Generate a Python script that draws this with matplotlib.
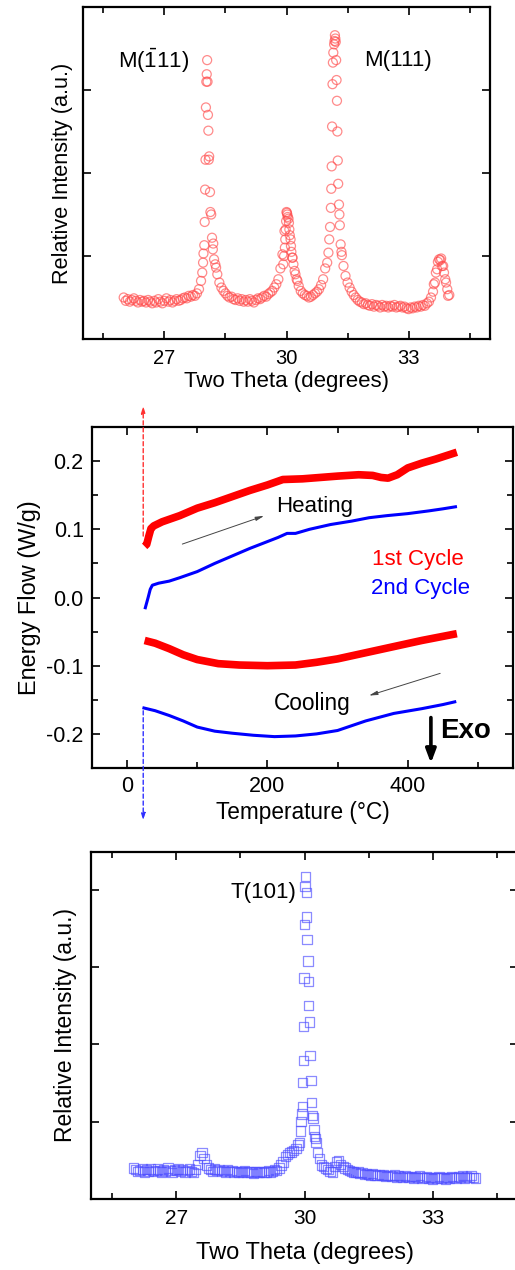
import numpy as np
import matplotlib
matplotlib.use("Agg")
import matplotlib.pyplot as plt
from matplotlib.ticker import MultipleLocator

plt.rcParams['font.family'] = ['Liberation Sans', 'DejaVu Sans']
plt.rcParams['mathtext.fontset'] = 'custom'
plt.rcParams['mathtext.rm'] = 'Liberation Sans'
plt.rcParams['mathtext.it'] = 'Liberation Sans:italic'

# ---- XRD, before DSC (monoclinic) ----
# scan grid, 0.05 deg step from 26 to 34
xrd_top_x = np.round(np.arange(26.0, 34.0001, 0.05), 2)
xrd_top_y = [
    0.50, 0.46, 0.48, 0.45, 0.47, 0.49, 0.46, 0.44, 0.47, 0.45,
    0.46, 0.44, 0.47, 0.45, 0.43, 0.46, 0.44, 0.48, 0.45, 0.43,
    0.46, 0.49, 0.45, 0.47, 0.44, 0.46, 0.48, 0.46, 0.47, 0.49,
    0.50, 0.49, 0.52, 0.51, 0.53, 0.52, 0.55, 0.60, 0.70, 0.92,
    1.80, 3.36, 2.20, 1.50, 1.15, 0.90, 0.78, 0.68, 0.62, 0.58,
    0.55, 0.52, 0.50, 0.51, 0.48, 0.47, 0.49, 0.46, 0.48, 0.45,
    0.47, 0.45, 0.48, 0.46, 0.44, 0.47, 0.49, 0.48, 0.50, 0.52,
    0.51, 0.54, 0.56, 0.58, 0.62, 0.66, 0.72, 0.85, 1.02, 1.30,
    1.53, 1.45, 1.20, 0.98, 0.82, 0.72, 0.64, 0.58, 0.55, 0.53,
    0.52, 0.50, 0.51, 0.53, 0.55, 0.57, 0.60, 0.65, 0.72, 0.85,
    0.92, 1.20, 1.81, 3.45, 3.62, 2.50, 1.50, 1.05, 0.88, 0.76,
    0.68, 0.62, 0.57, 0.53, 0.50, 0.47, 0.45, 0.44, 0.42, 0.43,
    0.41, 0.40, 0.42, 0.39, 0.41, 0.40, 0.38, 0.41, 0.39, 0.40,
    0.38, 0.40, 0.39, 0.41, 0.38, 0.39, 0.40, 0.38, 0.39, 0.37,
    0.36, 0.38, 0.37, 0.39, 0.38, 0.40, 0.39, 0.41, 0.40, 0.43,
    0.45, 0.50, 0.57, 0.68, 0.84, 0.96, 0.97, 0.88, 0.72, 0.60,
    0.53]
# extra points on the peaks (finer sampling)
pk1_x = [27.93, 27.96, 27.98, 27.99, 28.01, 28.02, 28.03, 28.04, 28.06,
         28.07, 28.08, 28.09, 28.12, 28.13, 28.17, 28.19, 28.22, 28.27]
pk1_y = [0.80, 1.03, 1.13, 1.41, 2.16, 2.79, 3.10, 3.19, 3.10,
         2.70, 2.51, 2.16, 1.77, 1.53, 1.22, 1.08, 0.96, 0.86]
pk2_x = [29.92, 29.94, 29.96, 29.97, 29.98, 29.99, 30.01, 30.02, 30.03,
         30.06, 30.07, 30.08, 30.11, 30.12, 30.14, 30.17, 30.22, 30.27]
pk2_y = [0.90, 1.00, 1.10, 1.20, 1.32, 1.42, 1.52, 1.50, 1.47,
         1.40, 1.32, 1.25, 1.12, 1.05, 0.98, 0.90, 0.78, 0.70]
pk3_x = [31.03, 31.07, 31.09, 31.11, 31.12, 31.13, 31.14, 31.17, 31.18, 31.19,
         31.21, 31.22, 31.23, 31.24, 31.26, 31.27, 31.29, 31.31, 31.33, 31.36]
pk3_y = [1.04, 1.35, 1.58, 2.08, 2.56, 3.07, 3.33, 3.55, 3.59, 3.66,
         3.58, 3.36, 3.12, 2.87, 2.15, 1.87, 1.62, 1.37, 1.14, 1.01]
pk4_x = [33.62, 33.67, 33.72, 33.78, 33.82, 33.87, 33.92, 33.97]
pk4_y = [0.66, 0.80, 0.93, 0.95, 0.88, 0.80, 0.68, 0.52]

# ---- DSC curves ----
red_heat_T = [25, 28, 31, 34, 38, 50, 75, 100, 125, 150, 175, 200, 222, 250,
              275, 300, 330, 350, 362, 372, 385, 400, 420, 440, 455, 470]
red_heat_E = [0.075, 0.078, 0.090, 0.101, 0.105, 0.111, 0.120, 0.131, 0.139,
              0.148, 0.157, 0.165, 0.173, 0.174, 0.176, 0.178, 0.180, 0.179,
              0.176, 0.175, 0.180, 0.190, 0.197, 0.203, 0.208, 0.213]
blue_heat_T = [26, 30, 33, 36, 45, 60, 75, 100, 125, 150, 175, 200, 215, 228,
               240, 260, 290, 320, 345, 370, 400, 430, 450, 468]
blue_heat_E = [-0.015, 0.000, 0.012, 0.018, 0.021, 0.024, 0.029, 0.038, 0.050,
               0.061, 0.072, 0.082, 0.088, 0.094, 0.094, 0.100, 0.107, 0.112,
               0.117, 0.120, 0.123, 0.127, 0.130, 0.133]
red_cool_T = [25, 40, 60, 80, 100, 130, 160, 200, 240, 270, 300, 340, 380, 420,
              450, 470]
red_cool_E = [-0.063, -0.067, -0.075, -0.084, -0.091, -0.097, -0.099, -0.100,
              -0.099, -0.095, -0.090, -0.081, -0.072, -0.063, -0.057, -0.053]
blue_cool_T = [24, 40, 60, 80, 100, 125, 150, 180, 210, 240, 270, 300, 340, 380,
               420, 450, 467]
blue_cool_E = [-0.162, -0.166, -0.173, -0.181, -0.190, -0.196, -0.199, -0.202,
               -0.204, -0.203, -0.200, -0.195, -0.181, -0.170, -0.163, -0.157,
               -0.153]

# ---- XRD, after DSC (tetragonal) ----
xrd_bot_x = np.round(np.arange(26.0, 34.0001, 0.05), 2)
xrd_bot_y = [
    0.40, 0.38, 0.36, 0.37, 0.39, 0.35, 0.38, 0.36, 0.39, 0.37,
    0.36, 0.39, 0.37, 0.35, 0.38, 0.36, 0.40, 0.37, 0.34, 0.38,
    0.37, 0.39, 0.36, 0.38, 0.35, 0.37, 0.39, 0.36, 0.34, 0.38,
    0.45, 0.56, 0.60, 0.52, 0.44, 0.40, 0.38, 0.36, 0.39, 0.37,
    0.38, 0.36, 0.37, 0.35, 0.38, 0.36, 0.37, 0.35, 0.36, 0.34,
    0.36, 0.35, 0.37, 0.34, 0.36, 0.35, 0.33, 0.36, 0.34, 0.35,
    0.36, 0.34, 0.35, 0.37, 0.35, 0.36, 0.38, 0.37, 0.40, 0.44,
    0.48, 0.55, 0.58, 0.60, 0.61, 0.63, 0.65, 0.70, 0.88, 1.20,
    3.55, 3.65, 2.50, 1.53, 1.05, 0.78, 0.60, 0.52, 0.44, 0.42,
    0.40, 0.38, 0.36, 0.35, 0.42, 0.48, 0.50, 0.45, 0.42, 0.40,
    0.38, 0.37, 0.36, 0.35, 0.34, 0.35, 0.33, 0.34, 0.32, 0.33,
    0.32, 0.31, 0.33, 0.31, 0.30, 0.32, 0.30, 0.31, 0.29, 0.30,
    0.30, 0.29, 0.31, 0.28, 0.30, 0.29, 0.28, 0.30, 0.29, 0.28,
    0.29, 0.27, 0.29, 0.28, 0.30, 0.27, 0.28, 0.29, 0.27, 0.28,
    0.26, 0.28, 0.27, 0.29, 0.27, 0.28, 0.26, 0.28, 0.27, 0.29,
    0.28, 0.27, 0.29, 0.28, 0.30, 0.27, 0.29, 0.28, 0.30, 0.28,
    0.27]
pkB_x = [29.88, 29.92, 29.94, 29.96, 29.97, 29.98, 29.99, 30.01, 30.02, 30.04,
         30.06, 30.08, 30.09, 30.11, 30.13, 30.17, 30.19, 30.22, 30.24, 30.27]
pkB_y = [0.73, 1.00, 1.10, 1.51, 1.79, 2.23, 2.86, 4.04, 4.17, 3.97,
         3.36, 3.08, 2.81, 2.29, 1.86, 1.25, 1.08, 0.90, 0.81, 0.73]


def style_axes(ax):
    ax.tick_params(which='both', direction='in', top=True, right=True,
                   width=1.2)
    ax.tick_params(which='major', length=6)
    ax.tick_params(which='minor', length=4)
    for s in ax.spines.values():
        s.set_linewidth(1.6)


fig = plt.figure(figsize=(5.15, 12.7), dpi=100)
W, H = 515.0, 1270.0

# top XRD panel
ax1 = fig.add_axes([83 / W, 1 - 339 / H, 407 / W, 332 / H])
tx = np.concatenate([xrd_top_x, pk1_x, pk2_x, pk3_x, pk4_x])
ty = np.concatenate([xrd_top_y, pk1_y, pk2_y, pk3_y, pk4_y])
ax1.scatter(tx, ty, s=42, facecolors='none', edgecolors='#ff4d4d',
            linewidths=0.9, alpha=0.65)
ax1.set_xlim(25, 35)
ax1.set_ylim(0, 4)
ax1.xaxis.set_major_locator(MultipleLocator(3))
ax1.xaxis.set_minor_locator(MultipleLocator(1.5))
ax1.set_yticks([1, 2, 3])
style_axes(ax1)
ax1.tick_params(labelleft=False, labelsize=14.5, pad=7)
ax1.set_xlabel("Two Theta (degrees)", fontsize=16, labelpad=2)
ax1.set_ylabel("Relative Intensity (a.u.)", fontsize=15.6, labelpad=7)
ax1.text(25.86, 3.35, r"M($\bar{\mathrm{1}}$11)", fontsize=16, va='center')
ax1.text(31.9, 3.35, "M(111)", fontsize=16, va='center')

# DSC panel
ax2 = fig.add_axes([92 / W, 1 - 768 / H, 421 / W, 341 / H])
ax2.plot(red_heat_T, red_heat_E, color='#ff0000', lw=5.5,
         solid_capstyle='butt', solid_joinstyle='round')
ax2.plot(blue_heat_T, blue_heat_E, color='#0000ff', lw=2.2)
ax2.plot(red_cool_T, red_cool_E, color='#ff0000', lw=5.5,
         solid_capstyle='butt', solid_joinstyle='round')
ax2.plot(blue_cool_T, blue_cool_E, color='#0000ff', lw=2.2)
ax2.set_xlim(-50, 550)
ax2.set_ylim(-0.25, 0.25)
ax2.xaxis.set_major_locator(MultipleLocator(200))
ax2.xaxis.set_minor_locator(MultipleLocator(100))
ax2.yaxis.set_major_locator(MultipleLocator(0.1))
ax2.yaxis.set_minor_locator(MultipleLocator(0.05))
ax2.yaxis.set_major_formatter(matplotlib.ticker.FuncFormatter(lambda v, p: "%.1f" % v))
style_axes(ax2)
ax2.tick_params(labelsize=15.5, pad=6)
ax2.set_xlabel("Temperature (\u00b0C)", fontsize=16.3, labelpad=3)
ax2.set_ylabel("Energy Flow (W/g)", fontsize=16.9, labelpad=4)

ax2.annotate("", xy=(23, 0.285), xytext=(23, 0.086), annotation_clip=False,
             arrowprops=dict(arrowstyle='-|>,head_width=0.12,head_length=0.4',
                             color='#ff3030', lw=1.0, linestyle=(0, (3, 2))))
ax2.annotate("", xy=(23, -0.331), xytext=(23, -0.162), annotation_clip=False,
             arrowprops=dict(arrowstyle='-|>,head_width=0.12,head_length=0.4',
                             color='#3030ff', lw=1.0, linestyle=(0, (3, 2))))
ax2.annotate("", xy=(199, 0.121), xytext=(75, 0.077),
             arrowprops=dict(arrowstyle='-|>,head_width=0.12,head_length=0.5',
                             color='#444444', lw=0.7))
ax2.annotate("", xy=(341, -0.145), xytext=(450, -0.110),
             arrowprops=dict(arrowstyle='-|>,head_width=0.12,head_length=0.5',
                             color='#444444', lw=0.7))
ax2.text(212, 0.134, "Heating", fontsize=16, va='center')
ax2.text(209, -0.155, "Cooling", fontsize=16.3, va='center')
ax2.text(349, 0.055, "1st Cycle", fontsize=16, color='#ff0000', va='center')
ax2.text(348, 0.013, "2nd Cycle", fontsize=16, color='#0000ff', va='center')
ax2.text(446, -0.196, "Exo", fontsize=20, fontweight='bold', va='center')
ax2.annotate("", xy=(433, -0.247), xytext=(433, -0.172),
             arrowprops=dict(arrowstyle='-|>,head_width=0.3,head_length=0.8',
                             color='black', lw=2.6))

# bottom XRD panel
ax3 = fig.add_axes([91 / W, 1 - 1199 / H, 427 / W, 347 / H])
bx = np.concatenate([xrd_bot_x, pkB_x])
by = np.concatenate([xrd_bot_y, pkB_y])
ax3.scatter(bx, by, s=45, marker='s', facecolors='none', edgecolors='#4d4dff',
            linewidths=0.9, alpha=0.65)
ax3.set_xlim(25, 35)
ax3.set_ylim(0, 4.49)
ax3.xaxis.set_major_locator(MultipleLocator(3))
ax3.xaxis.set_minor_locator(MultipleLocator(1.5))
ax3.set_yticks([1, 2, 3, 4])
style_axes(ax3)
ax3.tick_params(labelleft=False, labelsize=15, pad=7)
ax3.set_xlabel("Two Theta (degrees)", fontsize=17, labelpad=10)
ax3.set_ylabel("Relative Intensity (a.u.)", fontsize=16.5, labelpad=10)
ax3.text(28.27, 3.97, "T(101)", fontsize=16, va='center')

fig.savefig("out.png", dpi=100)
